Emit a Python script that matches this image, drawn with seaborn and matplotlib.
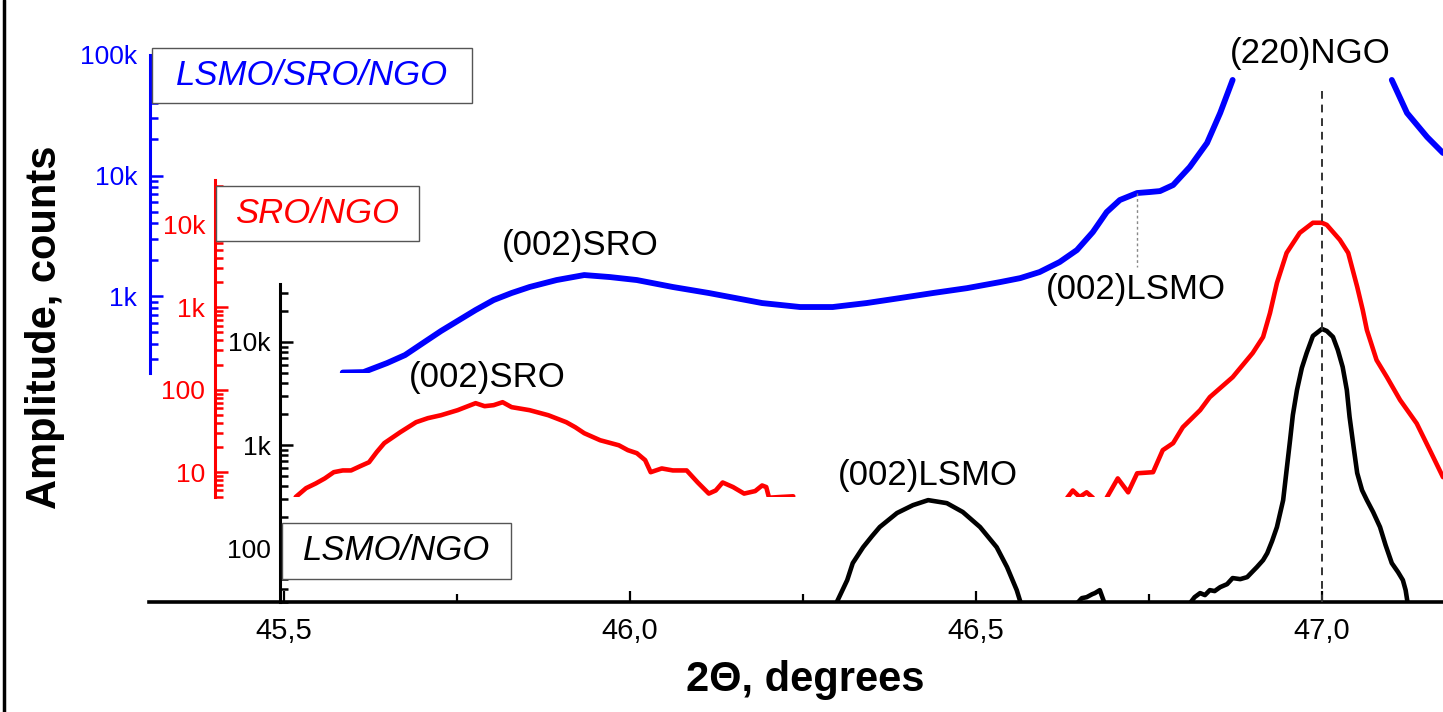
import numpy as np
import pandas as pd
import matplotlib
matplotlib.use("Agg")
import matplotlib.pyplot as plt
import matplotlib.ticker as mticker
import matplotlib.transforms as mtransforms
from matplotlib.patches import Rectangle
from matplotlib.lines import Line2D
import seaborn as sns

sns.set_style("ticks")
plt.rcParams["font.family"] = ["Liberation Sans", "DejaVu Sans"]
plt.rcParams.update({"text.color": "black", "axes.labelcolor": "black",
                     "xtick.color": "black", "ytick.color": "black",
                     "axes.edgecolor": "black"})

NAN = np.nan

# ---- LSMO/SRO/NGO (blue) : 2theta (deg), counts; NaN marks a break in the trace
lsmo_sro_theta = [45.585, 45.615, 45.649, 45.675, 45.701, 45.727, 45.753, 45.777, 45.803,
                  45.829, 45.855, 45.894, 45.934, 45.971, 46.010, 46.062, 46.114, 46.153,
                  46.191, 46.246, 46.293, 46.342, 46.390, 46.438, 46.487, 46.535, 46.564,
                  46.592, 46.621, 46.646, 46.669, 46.689, 46.708, 46.733, 46.751, 46.766,
                  46.785, 46.809, 46.834, 46.853, 46.871, NAN,
                  47.101, 47.123, 47.152, 47.175]
lsmo_sro_counts = [232, 234, 278, 324, 408, 513, 632, 766, 927,
                   1060, 1189, 1358, 1494, 1438, 1358, 1189, 1060, 962,
                   875, 811, 811, 875, 962, 1060, 1163, 1306, 1409,
                   1582, 1916, 2409, 3396, 4977, 6266, 7160, 7295, 7430,
                   8340, 11770, 18620, 33040, 62100, NAN,
                   62100, 33040, 20890, 15380]

# ---- SRO/NGO (red)
sro_theta = [45.517, 45.532, 45.546, 45.559, 45.572, 45.585, 45.597, 45.610, 45.623, 45.634,
             45.645, 45.668, 45.691, 45.708, 45.727, 45.751, 45.777, 45.790, 45.803, 45.816,
             45.829, 45.855, 45.882, 45.908, 45.921, 45.934, 45.957, 45.984, 45.997, 46.010,
             46.022, 46.030, 46.046, 46.062, 46.082, 46.098, 46.114, 46.124, 46.134, 46.149,
             46.165, 46.181, 46.191, 46.197, 46.201, 46.217, 46.236, NAN,
             46.632, 46.640, 46.650, 46.660, 46.669, NAN,
             46.689, 46.705, 46.720, 46.733, 46.756, 46.770, 46.785, 46.799, 46.824, 46.838,
             46.871, 46.900, 46.915, 46.925, 46.935, 46.949, 46.968, 46.987, 47.000, 47.007,
             47.026, 47.038, 47.051, 47.059, 47.065, 47.079, 47.094, 47.113, 47.137, 47.156,
             47.175]
sro_counts = [5.0, 6.4, 7.3, 8.4, 10.0, 10.5, 10.5, 11.8, 13.2, 17.5,
              22.5, 30.5, 40.4, 45.2, 49.1, 56.5, 68.7, 63.2, 65.0, 70.6,
              61.5, 56.5, 49.1, 40.4, 35.1, 29.7, 24.4, 21.2, 18.5, 17.0,
              14.0, 10.0, 11.1, 10.5, 10.5, 7.5, 5.5, 6.0, 7.5, 6.6,
              5.5, 5.9, 6.9, 6.6, 4.9, 5.0, 5.1, NAN,
              4.9, 6.0, 5.0, 5.7, 4.9, NAN,
              4.9, 8.4, 5.7, 9.7, 10.0, 18.5, 22.5, 35.1, 56.5, 81.3,
              142, 279, 436, 853, 1970, 4570, 8000, 10600, 10600, 10000,
              6570, 4570, 1770, 927, 530, 229, 142, 75, 39, 18.5,
              8.7]

# ---- LSMO/NGO (black)
lsmo_theta = [46.298, 46.314, 46.322, 46.337, 46.350, 46.361, 46.386, 46.409, 46.431, 46.458,
              46.481, 46.506, 46.530, 46.545, 46.559, 46.565, NAN,
              46.646, 46.653, 46.660, 46.668, 46.672, 46.679, 46.686, NAN,
              46.809, 46.816, 46.824, 46.831, 46.838, 46.845, 46.853, 46.863, 46.871, 46.882,
              46.892, 46.899, 46.906, 46.915, 46.921, 46.928, 46.935, 46.944, 46.949, 46.954,
              46.958, 46.964, 46.971, 46.978, 46.987, 47.000, 47.007, 47.016, 47.023, 47.030,
              47.036, 47.040, 47.046, 47.051, 47.058, 47.065, 47.074, 47.084, 47.092, 47.101,
              47.110, 47.117, 47.121, 47.124]
lsmo_counts = [29, 48.9, 71.5, 102, 131, 160, 219, 261, 292, 273,
               224, 160, 102, 65.4, 39.1, 29, NAN,
               29, 32.7, 33.4, 35.7, 36.6, 39.1, 29, NAN,
               29, 33.4, 36.6, 35.0, 39.1, 38.3, 41.8, 44.7, 51.2, 50.0,
               52.3, 58.5, 65.4, 76.4, 89.3, 117, 160, 292, 572, 1118,
               1955, 3420, 5595, 7823, 11430, 13370, 12790, 11190, 8360, 5717,
               3420, 1871, 935, 535, 365, 292, 224, 160, 107, 71.5,
               58.5, 48.9, 39.1, 29]

NGO_PEAK = 47.0
LSMO_SHOULDER = 46.733

BLUE, RED, BLACK = "#0000ff", "#ff0000", "#000000"
THETA_LIM = (45.305, 47.175)

W, H = 1443, 712
fig = plt.figure(figsize=(W / 100, H / 100), dpi=100)
fig.patch.set_facecolor("white")


def rect(x0, y_top, y_bot):
    return [x0 / W, 1 - y_bot / H, (W - x0) / W, (y_bot - y_top) / H]


def trace(theta, counts):
    theta = np.asarray(theta, float)
    counts = np.asarray(counts, float)
    seg = np.cumsum(np.isnan(counts))
    df = pd.DataFrame({"theta": theta, "counts": counts, "seg": seg})
    return df.dropna()


def style_axis(ax, color, spine_x, ylim, majors, labels, pad):
    ax.set_facecolor("none")
    ax.set_yscale("log")
    ax.set_xlim(*THETA_LIM)
    ax.set_ylim(*ylim)
    ax.set(xlabel="", ylabel="")
    for s in ("top", "right"):
        ax.spines[s].set_visible(False)
    ax.spines["left"].set_position(("data", spine_x))
    ax.spines["left"].set_color(color)
    ax.spines["left"].set_linewidth(2.2)
    ax.yaxis.set_major_locator(mticker.FixedLocator(majors))
    ax.yaxis.set_major_formatter(mticker.FixedFormatter(labels))
    ax.yaxis.set_minor_locator(mticker.LogLocator(base=10, subs=np.arange(2, 10), numticks=12))
    ax.yaxis.set_minor_formatter(mticker.NullFormatter())
    ax.tick_params(axis="y", which="both", direction="in", colors=color,
                   labelsize=19, pad=pad, width=1.8)
    ax.tick_params(axis="y", which="major", length=9)
    ax.tick_params(axis="y", which="minor", length=5.5)


ax_k = fig.add_axes(rect(149, 284, 602))
ax_r = fig.add_axes(rect(149, 180, 497))
ax_b = fig.add_axes(rect(149, 55, 373))

for ax in (ax_k, ax_r, ax_b):
    ax.set_yscale("log")

sns.lineplot(data=trace(lsmo_theta, lsmo_counts), x="theta", y="counts", units="seg",
             estimator=None, color=BLACK, linewidth=3.3, ax=ax_k, legend=False)
sns.lineplot(data=trace(sro_theta, sro_counts), x="theta", y="counts", units="seg",
             estimator=None, color=RED, linewidth=3.3, ax=ax_r, legend=False)
sns.lineplot(data=trace(lsmo_sro_theta, lsmo_sro_counts), x="theta", y="counts", units="seg",
             estimator=None, color=BLUE, linewidth=4.2, ax=ax_b, legend=False)

style_axis(ax_k, BLACK, 45.495, (30, 36500), [1e2, 1e3, 1e4], ["100", "1k", "10k"], 7)
style_axis(ax_r, RED, 45.400, (5, 35000), [1e1, 1e2, 1e3, 1e4], ["10", "100", "1k", "10k"], 7)
style_axis(ax_b, BLUE, 45.306, (230, 1e5), [1e3, 1e4, 1e5], ["1k", "10k", "100k"], 9)

for ax in (ax_r, ax_b):
    ax.spines["bottom"].set_visible(False)
    ax.tick_params(axis="x", which="both", bottom=False, labelbottom=False)

# 2theta axis
ax_k.spines["bottom"].set_linewidth(2.6)
ax_k.spines["bottom"].set_color(BLACK)
ax_k.xaxis.set_major_locator(mticker.MultipleLocator(0.5))
ax_k.xaxis.set_minor_locator(mticker.MultipleLocator(0.25))
ax_k.xaxis.set_major_formatter(mticker.FuncFormatter(lambda v, p: f"{v:.1f}".replace(".", ",")))
ax_k.tick_params(axis="x", which="both", direction="in", colors=BLACK, labelsize=21, pad=11, width=1.6)
ax_k.tick_params(axis="x", which="major", length=8)
ax_k.tick_params(axis="x", which="minor", length=5.5)

# sample boxes
def sample_box(x0, y0, x1, y1, text, color):
    fig.add_artist(Rectangle((x0 / W, 1 - y1 / H), (x1 - x0) / W, (y1 - y0) / H,
                             transform=fig.transFigure, facecolor="white",
                             edgecolor="#555555", linewidth=1.0))
    fig.text((x0 + x1) / 2 / W, 1 - (y0 + y1) / 2 / H, text, color=color, fontsize=25,
             style="italic", ha="center", va="center")


sample_box(152, 48, 472, 103, "LSMO/SRO/NGO", BLUE)
sample_box(216, 186, 419, 241, "SRO/NGO", RED)
sample_box(282, 523, 511, 579, "LSMO/NGO", BLACK)

# reflection labels
def peak_label(x, y, text):
    fig.text(x / W, 1 - y / H, text, fontsize=25, ha="center", va="center", color="black")


peak_label(1310, 53, "(220)NGO")
peak_label(580, 245, "(002)SRO")
peak_label(487, 377, "(002)SRO")
peak_label(928, 476, "(002)LSMO")
peak_label(1136, 290, "(002)LSMO")

# guide lines
trans = mtransforms.blended_transform_factory(ax_k.transData, fig.transFigure)
fig.add_artist(Line2D([NGO_PEAK, NGO_PEAK], [1 - 91 / H, 1 - 602 / H], transform=trans,
                      color="#333333", linewidth=1.4, linestyle=(0, (4, 3))))
fig.add_artist(Line2D([LSMO_SHOULDER, LSMO_SHOULDER], [1 - 193 / H, 1 - 267 / H], transform=trans,
                      color="#888888", linewidth=1.0, linestyle=(0, (2, 2))))

# axis titles
fig.text(45 / W, 1 - 327 / H, "Amplitude, counts", rotation=90, fontsize=30,
         fontweight="bold", ha="center", va="center", color="black")
fig.text(805 / W, 1 - 680 / H, "2Θ, degrees", fontsize=30, fontweight="bold",
         ha="center", va="center", color="black")

# frame edge
fig.add_artist(Line2D([4 / W, 4 / W], [0, 1], transform=fig.transFigure, color="black", linewidth=2.5))

fig.savefig("out.png", dpi=100)
